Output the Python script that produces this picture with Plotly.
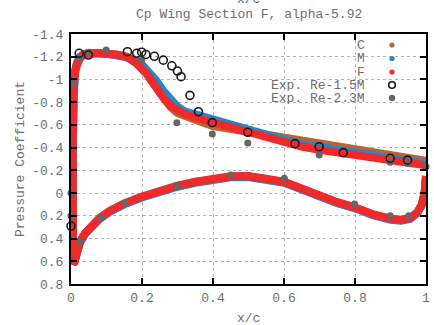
import plotly.graph_objects as go

# ---------------- data ----------------
# CFD surface Cp, upper surface (TE -> LE)
F_upper_x = [1.0, 0.95, 0.9, 0.85, 0.8, 0.75, 0.7, 0.65, 0.6, 0.55, 0.5, 0.45, 0.4, 0.35, 0.32, 0.3,
             0.28, 0.26, 0.24, 0.213, 0.185, 0.157, 0.13, 0.1, 0.075, 0.05, 0.035, 0.025, 0.018, 0.012,
             0.008, 0.006, 0.005, 0.004]
F_upper_cp = [-0.245, -0.265, -0.29, -0.31, -0.325, -0.35, -0.38, -0.41, -0.45, -0.49, -0.535, -0.575,
              -0.615, -0.665, -0.695, -0.725, -0.77, -0.84, -0.93, -1.05, -1.14, -1.2, -1.22, -1.225,
              -1.235, -1.235, -1.22, -1.19, -1.15, -1.08, -0.98, -0.8, -0.4, 0.1]
# lower surface (LE -> TE)
F_lower_x = [0.004, 0.006, 0.01, 0.015, 0.025, 0.04, 0.055, 0.08, 0.11, 0.15, 0.2, 0.25, 0.3, 0.35,
             0.4, 0.45, 0.5, 0.55, 0.6, 0.65, 0.7, 0.75, 0.8, 0.85, 0.9, 0.93, 0.955, 0.975, 0.988,
             0.996, 1.0]
F_lower_cp = [0.45, 0.62, 0.6, 0.52, 0.43, 0.35, 0.3, 0.22, 0.155, 0.09, 0.03, -0.025, -0.065, -0.1,
              -0.13, -0.148, -0.15, -0.13, -0.1, -0.04, 0.025, 0.08, 0.125, 0.185, 0.225, 0.235, 0.22,
              0.17, 0.1, 0.0, -0.15]

M_upper_x = [1.0, 0.95, 0.9, 0.85, 0.8, 0.75, 0.7, 0.65, 0.6, 0.55, 0.5, 0.45, 0.4, 0.35, 0.32, 0.3,
             0.28, 0.26, 0.24, 0.22, 0.2, 0.175, 0.15, 0.12, 0.09, 0.06, 0.04, 0.025, 0.015, 0.009,
             0.006, 0.005, 0.004]
M_upper_cp = [-0.26, -0.285, -0.31, -0.33, -0.345, -0.37, -0.4, -0.43, -0.47, -0.515, -0.56, -0.6,
              -0.64, -0.685, -0.72, -0.76, -0.82, -0.9, -0.99, -1.07, -1.13, -1.18, -1.205, -1.22,
              -1.23, -1.235, -1.225, -1.2, -1.13, -1.0, -0.8, -0.4, 0.1]
M_lower_x = [0.004, 0.006, 0.01, 0.015, 0.025, 0.04, 0.055, 0.08, 0.11, 0.15, 0.2, 0.25, 0.3, 0.35,
             0.4, 0.45, 0.5, 0.55, 0.6, 0.65, 0.7, 0.75, 0.8, 0.85, 0.9, 0.93, 0.955, 0.975, 0.988,
             0.996, 1.0]
M_lower_cp = [0.455, 0.625, 0.605, 0.525, 0.438, 0.358, 0.308, 0.229, 0.164, 0.099, 0.039, -0.016,
              -0.056, -0.091, -0.121, -0.139, -0.141, -0.121, -0.091, -0.031, 0.034, 0.089, 0.134,
              0.194, 0.234, 0.244, 0.229, 0.178, 0.108, 0.008, -0.15]

C_upper_x = [1.0, 0.95, 0.9, 0.85, 0.8, 0.75, 0.7, 0.65, 0.6, 0.55, 0.5, 0.45, 0.4, 0.35, 0.32, 0.3,
             0.28, 0.26, 0.24, 0.213, 0.185, 0.157, 0.13, 0.1, 0.075, 0.05, 0.035, 0.025, 0.018, 0.012,
             0.008, 0.006, 0.005, 0.004]
C_upper_cp = [-0.285, -0.31, -0.335, -0.355, -0.375, -0.4, -0.425, -0.455, -0.49, -0.515, -0.535,
              -0.555, -0.59, -0.645, -0.675, -0.705, -0.76, -0.835, -0.93, -1.05, -1.14, -1.2, -1.22,
              -1.225, -1.235, -1.235, -1.22, -1.19, -1.15, -1.08, -0.98, -0.8, -0.4, 0.1]
C_lower_x = [0.004, 0.006, 0.01, 0.015, 0.025, 0.04, 0.055, 0.08, 0.11, 0.15, 0.2, 0.25, 0.3, 0.35,
             0.4, 0.45, 0.5, 0.55, 0.6, 0.65, 0.7, 0.75, 0.8, 0.85, 0.9, 0.93, 0.955, 0.975, 0.988,
             0.996, 1.0]
C_lower_cp = [0.452, 0.622, 0.602, 0.522, 0.433, 0.353, 0.303, 0.224, 0.159, 0.094, 0.034, -0.021,
              -0.061, -0.096, -0.126, -0.144, -0.146, -0.126, -0.096, -0.036, 0.029, 0.084, 0.129,
              0.189, 0.229, 0.239, 0.224, 0.174, 0.104, 0.004, -0.15]

# experiments
exp15_x = [0.0, 0.023, 0.049, 0.159, 0.185, 0.199, 0.211, 0.235, 0.26, 0.284, 0.30, 0.31, 0.335,
           0.359, 0.398, 0.498, 0.631, 0.699, 0.767, 0.899, 0.948]
exp15_cp = [0.29, -1.23, -1.215, -1.244, -1.23, -1.24, -1.22, -1.204, -1.17, -1.12, -1.074, -1.024,
            -0.86, -0.716, -0.62, -0.535, -0.435, -0.408, -0.356, -0.306, -0.29]

exp23_x = [0.0, 0.0, 0.011, 0.025, 0.049, 0.099, 0.199, 0.298, 0.398, 0.498, 0.699, 0.899, 0.948,
           1.0, 0.025, 0.084, 0.152, 0.30, 0.45, 0.601, 0.799, 0.899, 0.951]
exp23_cp = [0.0, 0.2, -0.966, -1.186, -1.236, -1.26, -1.17, -0.62, -0.52, -0.44, -0.335, -0.272,
            -0.26, -0.235, 0.428, 0.216, 0.09, -0.063, -0.16, -0.13, 0.096, 0.199, 0.199]

legend_labels = ["C", "M", "F", "Exp. Re-1.5M", "Exp. Re-2.3M"]
x_ticks = [0, 0.2, 0.4, 0.6, 0.8, 1]
x_ticktext = ["0", "0.2", "0.4", "0.6", "0.8", "1"]
y_ticks = [-1.4, -1.2, -1.0, -0.8, -0.6, -0.4, -0.2, 0, 0.2, 0.4, 0.6, 0.8]
y_ticktext = ["-1.4", "-1.2", "-1", "-0.8", "-0.6", "-0.4", "-0.2", "0", "0.2", "0.4", "0.6", "0.8"]

COL_C = "#c0622f"
COL_M = "#2288cc"
COL_F = "#ee2a2a"
COL_E1 = "#1a1a1a"
COL_E2 = "#666666"
TXT = "#6e6e6e"
FONT = "Liberation Mono"

# ---------------- figure ----------------
fig = go.Figure()
LW = 8
for ux, ucp, lx, lcp, col in [(C_upper_x, C_upper_cp, C_lower_x, C_lower_cp, COL_C),
                              (M_upper_x, M_upper_cp, M_lower_x, M_lower_cp, COL_M),
                              (F_upper_x, F_upper_cp, F_lower_x, F_lower_cp, COL_F)]:
    fig.add_trace(go.Scatter(x=ux + lx, y=ucp + lcp, mode="lines",
                             line=dict(color=col, width=LW), showlegend=False, hoverinfo="skip"))

fig.add_trace(go.Scatter(x=exp23_x, y=exp23_cp, mode="markers", cliponaxis=False,
                         marker=dict(color=COL_E2, size=7, line=dict(width=0)), showlegend=False))
fig.add_trace(go.Scatter(x=exp15_x, y=exp15_cp, mode="markers", cliponaxis=False,
                         marker=dict(symbol="circle-open", color=COL_E1, size=8,
                                     line=dict(width=1.6, color=COL_E1)), showlegend=False))

W, H = 434, 325
L, R, T, B = 71, 8, 34, 41
pw, ph = W - L - R, H - T - B


def px_to_paper(xp, yp):
    return (xp - L) / pw, (H - B - yp) / ph


shapes = []
# legend background (covers grid)
x0, y0 = px_to_paper(270, 34)
x1, y1 = px_to_paper(425, 104)
shapes.append(dict(type="rect", xref="paper", yref="paper", x0=x0, x1=x1, y0=y1, y1=y0,
                   fillcolor="white", line=dict(width=0), layer="between"))

annotations = []
rows_y = [45, 58.5, 72, 85, 98]
leg_marks = [("dot", COL_C, 2.6), ("dot", COL_M, 2.6), ("dot", COL_F, 2.6),
             ("ring", COL_E1, 3.3), ("dot", COL_E2, 3.2)]
for lab, yp, (kind, col, r) in zip(legend_labels, rows_y, leg_marks):
    ax, ay = px_to_paper(366, yp)
    annotations.append(dict(x=ax, y=ay, xref="paper", yref="paper", text=lab, showarrow=False,
                            xanchor="right", yanchor="middle", height=12, borderpad=0,
                            font=dict(family=FONT, size=13, color=TXT)))
    cx0, cy0 = px_to_paper(392 - r, yp - r)
    cx1, cy1 = px_to_paper(392 + r, yp + r)
    if kind == "dot":
        shapes.append(dict(type="circle", xref="paper", yref="paper", x0=cx0, x1=cx1, y0=cy1, y1=cy0,
                           fillcolor=col, line=dict(width=0), layer="above"))
    else:
        shapes.append(dict(type="circle", xref="paper", yref="paper", x0=cx0, x1=cx1, y0=cy1, y1=cy0,
                           fillcolor="rgba(0,0,0,0)", line=dict(width=1.6, color=col), layer="above"))

# axis titles
tx, ty = px_to_paper(248.5, 318)
annotations.append(dict(x=0.5, y=ty, xref="paper", yref="paper", text="x/c", showarrow=False,
                        xanchor="center", yanchor="middle", font=dict(family=FONT, size=13, color=TXT)))
tx, ty = px_to_paper(248.5, -1)
annotations.append(dict(x=0.5, y=ty, xref="paper", yref="paper", text="x/c", showarrow=False,
                        xanchor="center", yanchor="middle", font=dict(family=FONT, size=13, color=TXT)))
tx, ty = px_to_paper(20, 159)
annotations.append(dict(x=tx, y=0.5, xref="paper", yref="paper", text="Pressure Coefficient",
                        showarrow=False, textangle=-90, xanchor="center", yanchor="middle",
                        font=dict(family=FONT, size=13, color=TXT)))
tx, ty = px_to_paper(248.5, 15)
annotations.append(dict(x=0.5, y=ty, xref="paper", yref="paper",
                        text="Cp Wing Section F, alpha-5.92", showarrow=False,
                        xanchor="center", yanchor="middle", font=dict(family=FONT, size=13, color=TXT)))

axis_common = dict(showline=True, linecolor="black", linewidth=2, mirror="ticks",
                   ticks="inside", ticklen=6, tickwidth=2, tickcolor="black",
                   showgrid=True, gridcolor="#b4b4b4", gridwidth=1, griddash="dot",
                   zeroline=False, tickfont=dict(family=FONT, size=13, color=TXT))

fig.update_layout(
    width=W, height=H, margin=dict(l=L, r=R, t=T, b=B, autoexpand=False),
    paper_bgcolor="white", plot_bgcolor="white", showlegend=False,
    xaxis=dict(range=[0, 1], tickvals=x_ticks, ticktext=x_ticktext, **axis_common),
    yaxis=dict(range=[0.8, -1.4], tickvals=y_ticks, ticktext=y_ticktext, ticklabelstandoff=3,
               **axis_common),
    shapes=shapes, annotations=annotations,
)

fig.write_html("out.html")
